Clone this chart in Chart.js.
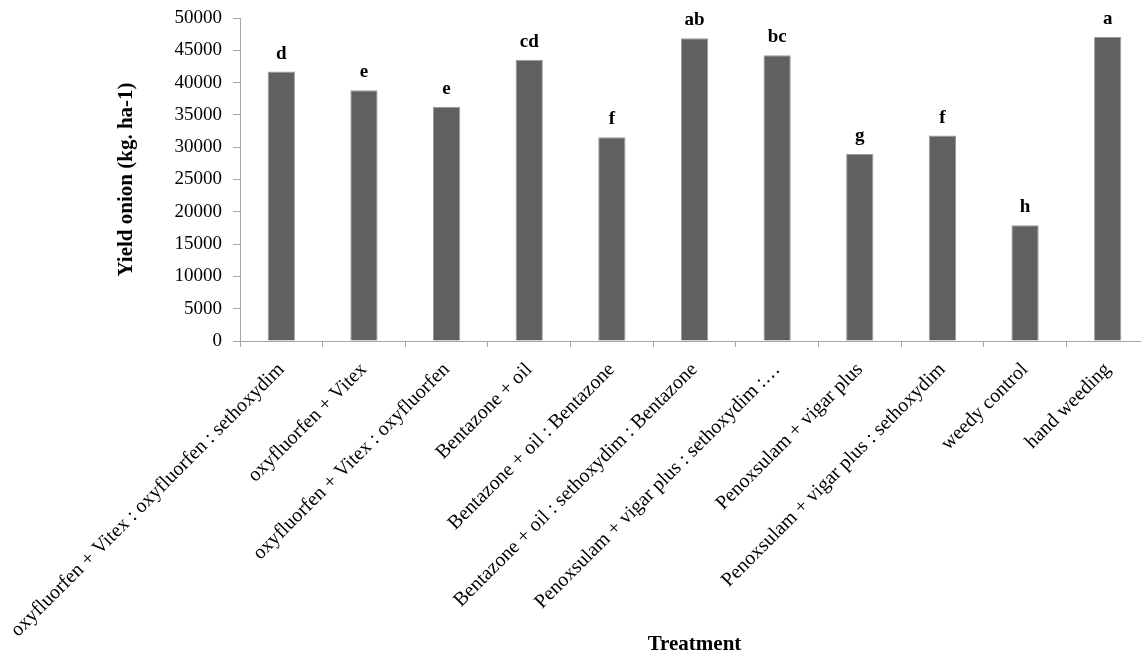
<!DOCTYPE html>
<html>
<head>
<meta charset="utf-8">
<script src="https://cdn.jsdelivr.net/npm/chart.js@4.4.1/dist/chart.umd.min.js"></script>
<style>
  html, body { margin: 0; padding: 0; background: #fff; overflow: hidden; }
  #wrap { width: 1150px; height: 657px; }
</style>
</head>
<body>
<div id="wrap"><canvas id="yieldChart" width="1150" height="657"></canvas></div>
<script>
// ─── Dados ──────────────────────────────────────────────────────────────────
const treatments = [
  'oxyfluorfen + Vitex : oxyfluorfen : sethoxydim',
  'oxyfluorfen + Vitex',
  'oxyfluorfen + Vitex : oxyfluorfen',
  'Bentazone + oil',
  'Bentazone + oil : Bentazone',
  'Bentazone + oil : sethoxydim : Bentazone',
  'Penoxsulam + vigar plus : sethoxydim :…',
  'Penoxsulam + vigar plus',
  'Penoxsulam + vigar plus : sethoxydim',
  'weedy control',
  'hand weeding'
];
const yieldValues = [41700, 38800, 36250, 43550, 31550, 46850, 44250, 29000, 31800, 17900, 47050];
const letters     = ['d', 'e', 'e', 'cd', 'f', 'ab', 'bc', 'g', 'f', 'h', 'a'];
const yTicks      = [0, 5000, 10000, 15000, 20000, 25000, 30000, 35000, 40000, 45000, 50000];

const serif = "'Liberation Serif', 'Times New Roman', serif";
const axisGrey = '#a6a6a6';

// ─── Plugin: letras de significância acima das barras ─────────────────────────
const letterPlugin = {
  id: 'letterPlugin',
  afterDatasetsDraw(chart) {
    const ctx = chart.ctx;
    const meta = chart.getDatasetMeta(0);
    ctx.save();
    ctx.font = 'bold 19px ' + serif;
    ctx.fillStyle = '#000';
    ctx.textAlign = 'center';
    ctx.textBaseline = 'alphabetic';
    meta.data.forEach((bar, i) => {
      ctx.fillText(letters[i], bar.x, bar.y - 13);
    });
    ctx.restore();
  }
};

// ─── Gráfico ─────────────────────────────────────────────────────────────────
const ctx = document.getElementById('yieldChart').getContext('2d');
new Chart(ctx, {
  type: 'bar',
  data: {
    labels: treatments,
    datasets: [{
      data: yieldValues,
      backgroundColor: '#606060',
      borderColor: '#9a9a9a',
      borderWidth: 1,
      barPercentage: 0.33,
      categoryPercentage: 1
    }]
  },
  options: {
    responsive: false,
    animation: false,
    layout: { padding: { left: 108, top: 18, right: 1, bottom: 0 } },
    plugins: {
      legend: { display: false },
      tooltip: { enabled: false }
    },
    scales: {
      x: {
        afterFit: (scale) => {
          scale.height = 316;
          scale.paddingLeft = 0;
          scale.paddingRight = 0;
        },
        grid: {
          display: true,
          drawOnChartArea: false,
          drawTicks: true,
          tickLength: 6,
          color: axisGrey,
          offset: true
        },
        border: { display: true, color: axisGrey, width: 1 },
        ticks: {
          autoSkip: false,
          minRotation: 45,
          maxRotation: 45,
          padding: 11,
          color: '#000',
          font: { family: serif, size: 20 }
        },
        title: {
          display: true,
          text: 'Treatment',
          color: '#000',
          padding: { top: 0, bottom: 0 },
          font: { family: serif, size: 21, weight: 'bold' }
        }
      },
      y: {
        min: 0,
        max: 50000,
        afterFit: (scale) => {
          scale.width = 132;
          scale.paddingTop = 0;
          scale.paddingBottom = 0;
        },
        afterBuildTicks: (scale) => { scale.ticks = yTicks.map(v => ({ value: v })); },
        grid: {
          display: true,
          drawOnChartArea: false,
          drawTicks: true,
          tickLength: 7,
          color: axisGrey
        },
        border: { display: true, color: axisGrey, width: 1 },
        ticks: {
          padding: 11,
          color: '#000',
          font: { family: serif, size: 19 },
          callback: (v) => String(v)
        },
        title: {
          display: true,
          text: 'Yield onion (kg. ha-1)',
          color: '#000',
          padding: { top: 6, bottom: 0 },
          font: { family: serif, size: 21, weight: 'bold' }
        }
      }
    }
  },
  plugins: [letterPlugin]
});
</script>
</body>
</html>
